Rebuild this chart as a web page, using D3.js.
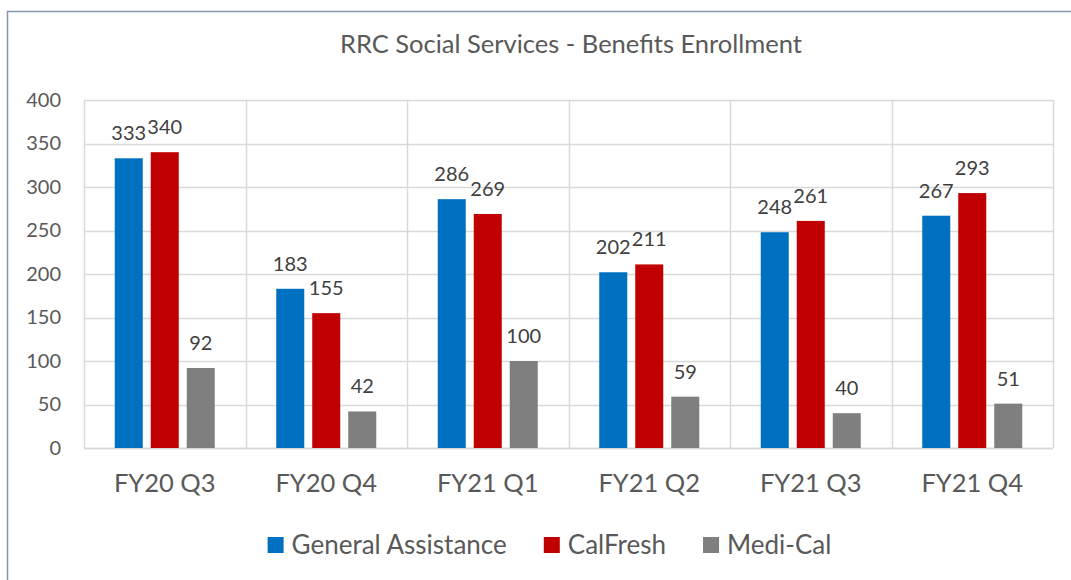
<!DOCTYPE html>
<html>
<head>
<meta charset="utf-8">
<script src="https://cdn.jsdelivr.net/npm/d3@7"></script>
<style>
  body { margin: 0; background: #fff; }
  text { font-family: Lato, "Open Sans", sans-serif; }
</style>
</head>
<body>
<div class="chart"></div>
<script>
// chart data
var quarters = ["FY20 Q3", "FY20 Q4", "FY21 Q1", "FY21 Q2", "FY21 Q3", "FY21 Q4"];
var seriesNames = ["General Assistance", "CalFresh", "Medi-Cal"];
var generalAssistance = [333, 183, 286, 202, 248, 267];
var calFresh = [340, 155, 269, 211, 261, 293];
var mediCal = [92, 42, 100, 59, 40, 51];
var yTicks = [0, 50, 100, 150, 200, 250, 300, 350, 400];
var colors = ["#0070C0", "#C00000", "#7F7F7F"];

var svgWidth = 1071;
var svgHeight = 580;

var margin = { top: 100, right: 18, bottom: 132, left: 84 };
var width = svgWidth - margin.left - margin.right;
var height = svgHeight - margin.top - margin.bottom;

var svg = d3.select(".chart")
  .append("svg")
  .attr("width", svgWidth)
  .attr("height", svgHeight);

// outer frame
svg.append("rect")
  .attr("x", 7.5)
  .attr("y", 11.5)
  .attr("width", svgWidth + 20)
  .attr("height", svgHeight + 20)
  .attr("fill", "none")
  .attr("stroke", "#8497B0")
  .attr("stroke-width", 1.5);

svg.append("text")
  .attr("x", 571)
  .attr("y", 53)
  .attr("text-anchor", "middle")
  .attr("font-size", 25.5)
  .attr("fill", "#595959")
  .text("RRC Social Services - Benefits Enrollment");

var chartGroup = svg.append("g")
  .attr("transform", `translate(${margin.left}, ${margin.top})`);

var rows = quarters.map(function (q, i) {
  return { quarter: q, values: [generalAssistance[i], calFresh[i], mediCal[i]] };
});

// scales
var x0 = d3.scaleBand()
  .domain(quarters)
  .range([0, width]);

var x1 = d3.scaleBand()
  .domain(seriesNames)
  .range([0, x0.bandwidth()])
  .paddingInner(0.222)
  .paddingOuter(0.854);

var y = d3.scaleLinear()
  .domain([0, 400])
  .range([height, 0]);

// horizontal gridlines
chartGroup.append("g")
  .selectAll("line")
  .data(yTicks)
  .enter()
  .append("line")
  .attr("x1", 0)
  .attr("x2", width)
  .attr("y1", d => Math.round(y(d)) + 0.5)
  .attr("y2", d => Math.round(y(d)) + 0.5)
  .attr("stroke", "#D9D9D9")
  .attr("stroke-width", d => d === 0 ? 2 : 1.5);

// vertical gridlines between categories
var bounds = quarters.map(q => x0(q)).concat([width]);
chartGroup.append("g")
  .selectAll("line")
  .data(bounds)
  .enter()
  .append("line")
  .attr("x1", d => Math.round(d) + 0.5)
  .attr("x2", d => Math.round(d) + 0.5)
  .attr("y1", 0)
  .attr("y2", height)
  .attr("stroke", "#D9D9D9")
  .attr("stroke-width", 1.5);

// y axis
var leftAxis = d3.axisLeft(y).tickValues(yTicks).tickSize(0).tickPadding(23);
var yAxisG = chartGroup.append("g").call(leftAxis);
yAxisG.select(".domain").remove();
yAxisG.selectAll("text")
  .attr("font-size", 20)
  .attr("font-family", "Lato, 'Open Sans', sans-serif")
  .attr("fill", "#595959");

// x axis
var bottomAxis = d3.axisBottom(x0).tickSize(0).tickPadding(26);
var xAxisG = chartGroup.append("g")
  .attr("transform", `translate(0, ${height})`)
  .call(bottomAxis);
xAxisG.select(".domain").remove();
xAxisG.selectAll("text")
  .attr("font-size", 25.5)
  .attr("font-family", "Lato, 'Open Sans', sans-serif")
  .attr("fill", "#595959");

// bars
var groups = chartGroup.selectAll(".group")
  .data(rows)
  .enter()
  .append("g")
  .attr("class", "group")
  .attr("transform", d => `translate(${x0(d.quarter)}, 0)`);

groups.selectAll("rect")
  .data(d => d.values.map((v, i) => ({ name: seriesNames[i], value: v, idx: i })))
  .enter()
  .append("rect")
  .attr("x", d => x1(d.name))
  .attr("width", x1.bandwidth())
  .attr("y", d => y(d.value))
  .attr("height", d => height - y(d.value))
  .attr("fill", d => colors[d.idx]);

groups.selectAll(".lbl")
  .data(d => d.values.map((v, i) => ({ name: seriesNames[i], value: v })))
  .enter()
  .append("text")
  .attr("class", "lbl")
  .attr("text-anchor", "middle")
  .attr("font-size", 20)
  .attr("fill", "#404040")
  .attr("x", d => x1(d.name) + x1.bandwidth() / 2)
  .attr("y", d => y(d.value) - 18)
  .text(d => d.value);

// legend
var legend = svg.append("g");
var items = legend.selectAll("g")
  .data(seriesNames)
  .enter()
  .append("g");
items.append("rect")
  .attr("width", 16)
  .attr("height", 16)
  .attr("y", 537)
  .attr("fill", (d, i) => colors[i]);
items.append("text")
  .attr("x", 24)
  .attr("y", 554)
  .attr("font-size", 26)
  .attr("fill", "#595959")
  .text(d => d);

var xpos = 0;
items.each(function () {
  var g = d3.select(this);
  var w = 24 + g.select("text").node().getComputedTextLength();
  g.attr("transform", `translate(${xpos}, 0)`);
  xpos += w + 37;
});
var total = xpos - 37;
legend.attr("transform", `translate(${549.5 - total / 2}, 0)`);
</script>
</body>
</html>
